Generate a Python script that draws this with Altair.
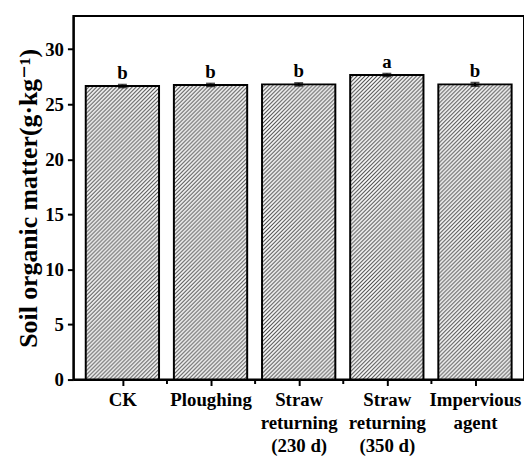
import altair as alt
import pandas as pd
import base64

categories = ["CK", "Ploughing", "Straw\nreturning\n(230 d)", "Straw\nreturning\n(350 d)", "Impervious\nagent"]
means = [26.65, 26.75, 26.8, 27.65, 26.8]
errors = [0.12, 0.12, 0.12, 0.12, 0.15]
letters = ["b", "b", "b", "a", "b"]
y_ticks = [0, 2.5, 5, 7.5, 10, 12.5, 15, 17.5, 20, 22.5, 25, 27.5, 30, 32.5]

df = pd.DataFrame({
    "idx": list(range(1, len(categories) + 1)),
    "cat": categories,
    "mean": means,
    "err": errors,
    "letter": letters,
})
df["lo"] = df["mean"] - df["err"]
df["hi"] = df["mean"] + df["err"]

FONT = "Liberation Serif, DejaVu Serif, serif"
BAR_W = 74

# hatch fill ("////") as an SVG pattern image, clipped at the plot bottom
hatch_svg = (
    "<svg xmlns='http://www.w3.org/2000/svg' width='74' height='340'>"
    "<defs><pattern id='p' width='4' height='4' patternUnits='userSpaceOnUse'>"
    "<path d='M-1,1 L1,-1 M0,4 L4,0 M3,5 L5,3' stroke='#4a4a4a' stroke-width='1.1'/>"
    "</pattern></defs>"
    "<rect width='74' height='340' fill='white'/>"
    "<rect width='74' height='340' fill='url(#p)'/></svg>"
)
hatch_uri = "data:image/svg+xml;base64," + base64.b64encode(hatch_svg.encode()).decode()

x_values = [1, 1.5, 2, 2.5, 3, 3.5, 4, 4.5, 5]
label_arr = "[" + ",".join("'" + s.replace("\n", "\\n") + "'" for s in categories) + "]"
x_label_expr = f"datum.value % 1 === 0 ? split({label_arr}[datum.value - 1], '\\n') : ''"

x_scale = alt.Scale(domain=[0.5, 5.5], nice=False, zero=False)
y_scale = alt.Scale(domain=[0, 33], nice=False)

x_enc = alt.X(
    "idx:Q",
    scale=x_scale,
    axis=alt.Axis(
        values=x_values,
        labelExpr=x_label_expr,
        title=None,
        grid=False,
        tickSize={"condition": {"test": "datum.value % 1 === 0", "value": 6}, "value": 4},
        tickWidth=2,
        tickColor="black",
        domainColor="black",
        domainWidth=2,
        labelFont=FONT,
        labelFontWeight="bold",
        labelFontSize=19,
        labelColor="black",
        labelLineHeight=23.5,
        labelPadding=5,
        labelBaseline="top",
        labelFlush=False,
        labelOverlap=False,
    ),
)

y_enc = alt.Y(
    "mean:Q",
    scale=y_scale,
    axis=alt.Axis(
        values=y_ticks,
        labelExpr="datum.value % 5 === 0 ? datum.label : ''",
        title="Soil organic matter(g·kg⁻¹)",
        titleFont=FONT,
        titleFontWeight="bold",
        titleFontSize=26,
        titleColor="black",
        titlePadding=3,
        grid=False,
        tickSize={"condition": {"test": "datum.value % 5 === 0", "value": 6}, "value": 4},
        tickWidth=2,
        tickColor="black",
        domainColor="black",
        domainWidth=2,
        labelFont=FONT,
        labelFontWeight="bold",
        labelFontSize=19,
        labelColor="black",
        labelPadding=4,
        labelFlush=False,
        labelOverlap=False,
    ),
)

base = alt.Chart(df)

hatch = base.mark_image(
    width=BAR_W, height=340, align="center", baseline="top", aspect=False, clip=True
).encode(
    x=alt.X("idx:Q", scale=x_scale),
    y=alt.Y("mean:Q", scale=y_scale),
    url=alt.value(hatch_uri),
)

bars = base.mark_bar(
    width=BAR_W, fill="white", fillOpacity=0, stroke="black", strokeWidth=2
).encode(x=x_enc, y=y_enc)

rules = base.mark_rule(color="black", strokeWidth=2).encode(
    x="idx:Q", y="lo:Q", y2="hi:Q"
)
cap_lo = base.mark_tick(orient="horizontal", size=9, thickness=2, color="black").encode(
    x="idx:Q", y="lo:Q"
)
cap_hi = base.mark_tick(orient="horizontal", size=9, thickness=2, color="black").encode(
    x="idx:Q", y="hi:Q"
)
labels = base.mark_text(
    font=FONT, fontWeight="bold", fontSize=19, color="black", baseline="alphabetic", dy=-6
).encode(x="idx:Q", y="hi:Q", text="letter:N")

chart = (
    alt.layer(hatch, bars, rules, cap_lo, cap_hi, labels)
    .properties(
        width=455,
        height=367,
        autosize=alt.AutoSizeParams(type="none"),
        padding={"left": 66, "top": 6, "right": 0, "bottom": 75},
    )
    .configure_view(stroke="black", strokeWidth=2)
)

chart.save("out.html", embed_options={"renderer": "svg", "actions": False})
